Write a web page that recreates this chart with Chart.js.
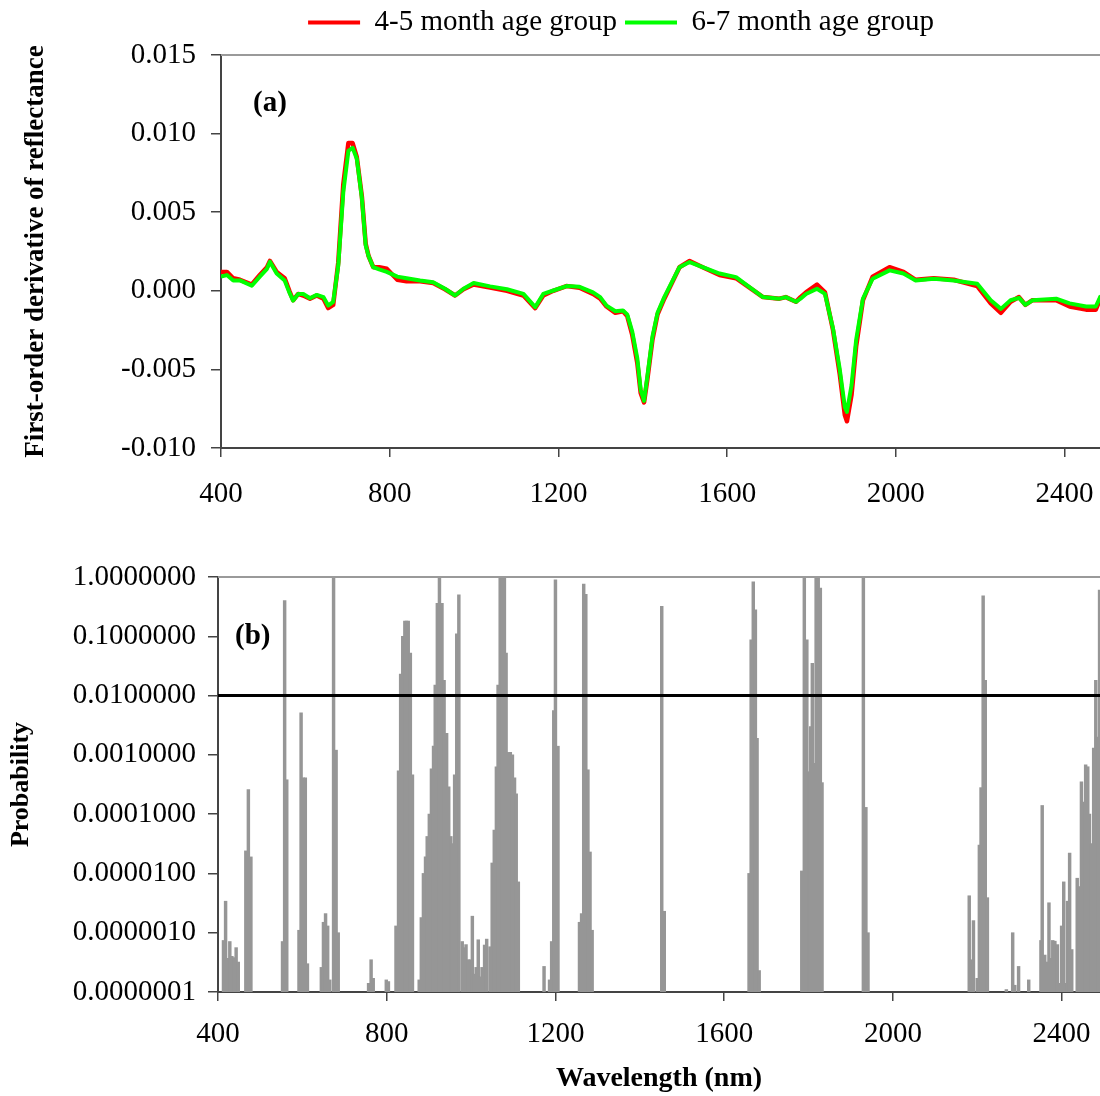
<!DOCTYPE html>
<html><head><meta charset="utf-8">
<script src="https://cdn.jsdelivr.net/npm/chart.js"></script>
<style>
html,body{margin:0;padding:0;background:#fff;overflow:hidden;width:1100px;height:1096px;}
#wrapA{position:absolute;left:0;top:0;width:1100px;height:520px;}
#wrapB{position:absolute;left:0;top:520px;width:1100px;height:576px;}
canvas{display:block;}
</style></head><body>
<div id="wrapA"><canvas id="chartA" width="1100" height="520"></canvas></div>
<div id="wrapB"><canvas id="chartB" width="1100" height="576"></canvas></div>
<script>
// ---------- data ----------
const seriesNames = ['4-5 month age group', '6-7 month age group'];
const panelLabels = ['(a)', '(b)'];
const yTitleA = 'First-order derivative of reflectance';
const yTitleB = 'Probability';
const xTitleB = 'Wavelength (nm)';

const wavelengthTicks = [400, 800, 1200, 1600, 2000, 2400];
const derivTicks = [-0.010, -0.005, 0.000, 0.005, 0.010, 0.015];
const probTicks = [1e-7, 1e-6, 1e-5, 1e-4, 1e-3, 1e-2, 1e-1, 1];
const significanceLevel = 0.01;

const wavelengthA = [400,414,429,445,473,492,509,516,532,551,562,571,583,595,611,627,643,654,666,678,690,702,712,722,734,743,750,761,775,793,818,840,872,903,931,955,975,999,1038,1078,1117,1145,1164,1188,1219,1250,1282,1299,1314,1335,1353,1363,1375,1387,1395,1403,1411,1423,1435,1451,1471,1487,1511,1542,1582,1621,1653,1685,1724,1739,1763,1774,1787,1813,1832,1851,1867,1879,1884,1895,1906,1922,1945,1985,2018,2047,2090,2137,2193,2225,2249,2272,2292,2307,2324,2380,2412,2451,2474,2486];

const deriv45 = [0.0012,0.0012,0.0008,0.0007,0.0004,0.0010,0.0015,0.0019,0.0012,0.0008,0.0000,-0.0006,-0.0002,-0.0003,-0.0005,-0.0003,-0.0005,-0.0011,-0.0009,0.0018,0.0068,0.0094,0.0094,0.0085,0.0060,0.0030,0.0022,0.0015,0.0015,0.0014,0.0007,0.0006,0.0006,0.0005,0.0001,-0.0003,0.0001,0.0004,0.0002,0.0000,-0.0003,-0.0011,-0.0003,0.0000,0.0003,0.0002,-0.0002,-0.0005,-0.0010,-0.0014,-0.0013,-0.0016,-0.0028,-0.0046,-0.0065,-0.0071,-0.0056,-0.0031,-0.0015,-0.0005,0.0006,0.0015,0.0019,0.0015,0.0010,0.0008,0.0002,-0.0004,-0.0005,-0.0004,-0.0007,-0.0004,-0.0001,0.0004,-0.0001,-0.0025,-0.0053,-0.0079,-0.0083,-0.0066,-0.0035,-0.0006,0.0009,0.0015,0.0012,0.0007,0.0008,0.0007,0.0003,-0.0008,-0.0014,-0.0007,-0.0004,-0.0009,-0.0006,-0.0006,-0.0010,-0.0012,-0.0012,-0.0004];

const deriv67 = [0.0009,0.0010,0.00066,0.00066,0.00032,0.0009,0.0014,0.00185,0.0011,0.00066,-0.0001,-0.00062,-0.0002,-0.0002,-0.00047,-0.00026,-0.0004,-0.00094,-0.0007,0.0016,0.0063,0.0089,0.0091,0.0084,0.0059,0.0029,0.0022,0.0015,0.00136,0.0012,0.0009,0.0008,0.00066,0.00055,0.00013,-0.0003,0.00013,0.0005,0.00028,0.0001,-0.0002,-0.00104,-0.0002,0.00002,0.0003,0.00025,-0.0001,-0.0004,-0.00094,-0.0013,-0.00125,-0.0015,-0.0026,-0.0043,-0.0063,-0.0070,-0.0054,-0.0029,-0.0014,-0.0004,0.00066,0.0015,0.00183,0.0015,0.0011,0.00087,0.00023,-0.0004,-0.0005,-0.0004,-0.0007,-0.0005,-0.0002,0.00013,-0.0002,-0.0024,-0.0050,-0.0074,-0.0077,-0.0060,-0.0031,-0.0005,0.00077,0.0013,0.0011,0.00066,0.00077,0.00066,0.00045,-0.0006,-0.00115,-0.0006,-0.00045,-0.0009,-0.0006,-0.0005,-0.0008,-0.0010,-0.0010,-0.0003];

const probWavelength = [413,418,423,428,433,438,443,448,466,472,478,553,558,563,592,597,602,607,612,645,650,655,660,665,674,680,685,757,763,768,799,804,822,828,833,838,843,847,851,856,861,877,882,887,892,896,901,906,911,915,920,925,931,936,942,947,952,956,961,966,971,979,984,988,993,998,1003,1007,1012,1017,1022,1026,1032,1037,1045,1050,1055,1060,1064,1069,1074,1079,1083,1088,1093,1098,1103,1107,1112,1173,1186,1191,1196,1200,1206,1257,1262,1267,1272,1277,1282,1287,1452,1458,1659,1664,1669,1674,1678,1683,1784,1790,1796,1801,1805,1809,1813,1818,1823,1828,1832,1930,1936,1941,2181,2186,2191,2200,2205,2209,2214,2219,2224,2269,2284,2289,2298,2322,2351,2354,2360,2365,2370,2375,2379,2384,2390,2395,2400,2405,2410,2414,2419,2424,2437,2442,2447,2452,2457,2462,2466,2471,2476,2481,2486,2490];

const probValue = [7.4e-7,3.4e-6,3.7e-7,7.1e-7,4.0e-7,3.8e-7,5.6e-7,3.2e-7,2.4e-5,2.6e-4,1.9e-5,7.1e-7,0.40,3.8e-4,1.1e-6,5.1e-3,4.1e-4,4.1e-4,3.0e-7,2.6e-7,1.5e-6,2.1e-6,1.3e-6,1.6e-7,1.0,1.2e-3,1.0e-6,1.4e-7,3.5e-7,1.7e-7,1.6e-7,1.5e-7,1.3e-6,5.4e-4,0.023,0.10,0.18,0.18,0.18,0.052,4.6e-4,1.6e-7,1.8e-6,1.0e-5,1.9e-5,4.2e-5,1.0e-4,5.8e-4,1.4e-3,0.015,0.36,1.0,0.36,0.018,2.3e-3,2.9e-4,4.2e-5,3.2e-5,4.6e-4,0.11,0.5,7.1e-7,5.6e-7,6.3e-7,3.5e-7,3.5e-7,1.9e-6,2.0e-7,2.6e-7,7.6e-7,1.8e-7,2.6e-7,6.2e-7,7.8e-7,5.8e-7,1.5e-5,5.4e-5,6.3e-4,0.015,1.0,1.0,1.0,0.052,1.1e-3,1.1e-3,1.0e-3,4.1e-4,2.2e-4,7.2e-6,2.7e-7,1.6e-7,7.1e-7,5.6e-3,0.9,1.4e-3,1.5e-6,2.1e-6,0.76,0.51,5.6e-4,2.3e-5,1.1e-6,0.32,2.3e-6,1.0e-5,0.087,0.83,0.28,1.9e-3,2.3e-7,1.1e-5,0.95,0.087,5.2e-4,3.0e-3,0.035,7.2e-4,1.0,1.0,0.65,3.4e-4,1.0,1.3e-4,1.0e-6,4.2e-6,3.5e-7,1.6e-6,1.7e-7,3.0e-5,2.8e-4,0.48,0.018,3.9e-6,1.1e-7,1.0e-6,1.3e-7,2.7e-7,1.6e-7,7.4e-7,1.4e-4,4.2e-7,3.2e-7,3.2e-6,3.7e-7,7.4e-7,7.2e-7,6.3e-7,1.4e-7,1.3e-6,7.2e-6,1.4e-7,3.4e-6,2.2e-5,5.2e-7,8.3e-6,6.0e-6,3.5e-4,1.6e-4,6.8e-4,6.3e-4,1.0e-4,3.2e-5,1.3e-3,0.018,2.0e-3,0.6];

// ---------- styling / plumbing ----------
const serif = "'Liberation Serif', 'Times New Roman', Times, serif";
Chart.defaults.font.family = serif;
Chart.defaults.color = '#000';

const axisColor = '#444';

const frameTop = {
  id: 'frameTop',
  afterDraw(chart, args, opts) {
    const {ctx, chartArea: a} = chart;
    ctx.save();
    ctx.strokeStyle = opts.color; ctx.lineWidth = opts.width;
    ctx.beginPath(); ctx.moveTo(a.left, a.top); ctx.lineTo(a.right, a.top); ctx.stroke();
    ctx.restore();
  }
};
const panelTag = {
  id: 'panelTag',
  afterDraw(chart, args, opts) {
    const {ctx, chartArea: a} = chart;
    ctx.save();
    ctx.font = 'bold 29px ' + serif;
    ctx.fillStyle = '#000'; ctx.textAlign = 'left'; ctx.textBaseline = 'middle';
    ctx.fillText(opts.text, a.left + opts.dx, a.top + opts.dy);
    ctx.restore();
  }
};
const legendPlacer = {
  id: 'legendPlacer',
  afterLayout(chart, args, opts) {
    const L = chart.legend;
    if (!L) return;
    const dx = opts.centerX - (L.left + L.right) / 2;
    L.left += dx; L.right += dx;
    L.top += opts.dy; L.bottom += opts.dy;
  }
};

function xy(xs, ys) { return xs.map((x, i) => ({x: x, y: ys[i]})); }
const tickList = arr => (s => { s.ticks = arr.map(v => ({value: v})); });

// ---------- panel (a) ----------
new Chart(document.getElementById('chartA'), {
  type: 'line',
  data: {
    datasets: [
      {label: seriesNames[0], data: xy(wavelengthA, deriv45), borderColor: '#ff0000', backgroundColor: '#ff0000',
       borderWidth: 4.5, pointRadius: 0, fill: false, tension: 0, order: 1, borderJoinStyle: 'round'},
      {label: seriesNames[1], data: xy(wavelengthA, deriv67), borderColor: '#00ff00', backgroundColor: '#00ff00',
       borderWidth: 4, pointRadius: 0, fill: false, tension: 0, order: 0, borderJoinStyle: 'round'}
    ]
  },
  options: {
    responsive: false, animation: false, devicePixelRatio: 1,
    layout: {padding: {left: 20, top: 8, right: 0, bottom: 0}},
    plugins: {
      legend: {
        display: true, position: 'top',
        labels: {
          font: {size: 29}, boxWidth: 52, boxHeight: 4, padding: 8, color: '#000',
          generateLabels(chart) {
            const items = Chart.defaults.plugins.legend.labels.generateLabels(chart);
            items.forEach(it => { it.lineWidth = 0; it.fillStyle = it.strokeStyle; });
            return items.sort((a, b) => a.datasetIndex - b.datasetIndex);
          }
        }
      },
      tooltip: {enabled: false},
      frameTop: {color: '#9a9a9a', width: 2},
      panelTag: {text: panelLabels[0], dx: 32, dy: 49},
      legendPlacer: {centerX: 621, dy: -8}
    },
    scales: {
      x: {
        type: 'linear', min: 400, max: 2484,
        afterBuildTicks: tickList(wavelengthTicks),
        afterFit: s => { s.height = 72; },
        ticks: {font: {size: 29, lineHeight: 2.414}, padding: 2, autoSkip: false, maxRotation: 0, callback: v => String(v)},
        grid: {display: true, drawOnChartArea: false, drawTicks: true, tickLength: 9, color: axisColor, lineWidth: 1.5},
        border: {display: true, color: axisColor, width: 2}
      },
      y: {
        type: 'linear', min: -0.010, max: 0.015,
        afterBuildTicks: tickList(derivTicks),
        afterFit: s => { s.width = 201; },
        ticks: {font: {size: 29}, padding: 15, autoSkip: false, callback: v => Number(v).toFixed(3)},
        grid: {display: true, drawOnChartArea: false, drawTicks: true, tickLength: 10, color: axisColor, lineWidth: 1.5},
        border: {display: true, color: axisColor, width: 2},
        title: {display: true, text: yTitleA, font: {size: 27, weight: 'bold'}, padding: {top: 0, bottom: 0}}
      }
    }
  },
  plugins: [frameTop, panelTag, legendPlacer]
});

// ---------- panel (b) ----------
const xMinB = 400, xMaxB = 2491;
new Chart(document.getElementById('chartB'), {
  type: 'bar',
  data: {
    datasets: [
      {type: 'line', label: 'P = 0.01', data: [{x: xMinB, y: significanceLevel}, {x: xMaxB, y: significanceLevel}],
       borderColor: '#000', backgroundColor: '#000', borderWidth: 3, pointRadius: 0, order: 0},
      {type: 'bar', label: yTitleB, data: xy(probWavelength, probValue), backgroundColor: '#969696',
       borderWidth: 0, barThickness: 2.8, order: 1}
    ]
  },
  options: {
    responsive: false, animation: false, devicePixelRatio: 1,
    layout: {padding: {left: 6, top: 57, right: 0, bottom: 0}},
    plugins: {
      legend: {display: false},
      tooltip: {enabled: false},
      frameTop: {color: '#9a9a9a', width: 2},
      panelTag: {text: panelLabels[1], dx: 17, dy: 60}
    },
    scales: {
      x: {
        type: 'linear', min: xMinB, max: xMaxB, offset: false,
        afterBuildTicks: tickList(wavelengthTicks),
        afterFit: s => { s.height = 104; },
        ticks: {font: {size: 29, lineHeight: 2.138}, padding: 2, autoSkip: false, maxRotation: 0, callback: v => String(v)},
        grid: {display: true, offset: false, drawOnChartArea: false, drawTicks: true, tickLength: 9, color: axisColor, lineWidth: 1.5},
        border: {display: true, color: axisColor, width: 2},
        title: {display: true, text: xTitleB, font: {size: 28, weight: 'bold'}, padding: {top: 0, bottom: 0}}
      },
      y: {
        type: 'logarithmic', min: probTicks[0], max: probTicks[probTicks.length - 1], beginAtZero: false,
        afterBuildTicks: tickList(probTicks),
        afterFit: s => { s.width = 212; },
        ticks: {font: {size: 29}, padding: 12, autoSkip: false, callback: v => Number(v).toFixed(7)},
        grid: {display: true, drawOnChartArea: false, drawTicks: true, tickLength: 10, color: axisColor, lineWidth: 1.5},
        border: {display: true, color: axisColor, width: 2},
        title: {display: true, text: yTitleB, font: {size: 26, weight: 'bold'}, padding: {top: 0, bottom: 0}}
      }
    }
  },
  plugins: [frameTop, panelTag]
});
</script>
</body></html>
